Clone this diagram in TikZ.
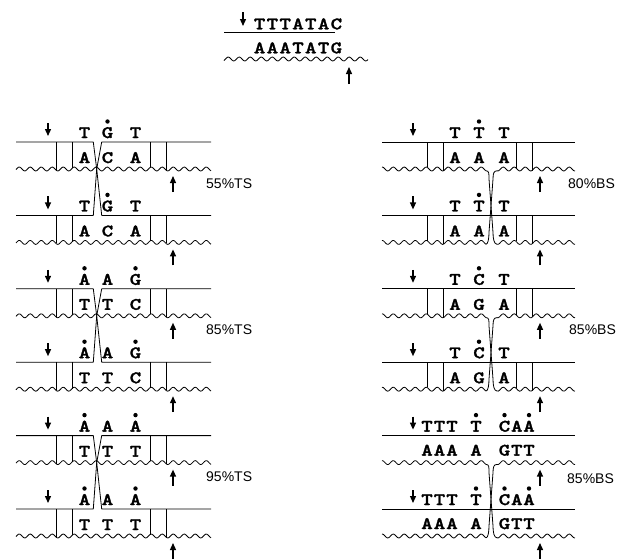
\documentclass[tikz,border=0pt]{standalone}
\usepackage{fontspec}
\newfontfamily\labelfont{Liberation Sans}
\newfontfamily\nucfont{lmmonolt10-bold}[Extension=.otf, FakeStretch=1.25, FakeBold=1.6]
\usetikzlibrary{arrows.meta}

\begin{document}
\begin{tikzpicture}[
    x=1pt, y=-1pt,
    declare function={wv(\x)=2*sin(32.727*mod(\x,11));},
    strand/.style={line width=0.8pt, line join=round},
    bar/.style={line width=0.7pt},
    nuc/.style={font=\nucfont\fontsize{17.5}{17.5}\selectfont, inner sep=0pt, anchor=base},
    pct/.style={font=\labelfont\fontsize{14}{14}\selectfont, inner sep=0pt, anchor=west},
    cut/.style={line width=1.3pt, -{Triangle[length=7pt, width=6pt]}},
    lesion/.style={radius=2.2pt}
  ]
  \useasboundingbox (0,0) rectangle (629,558);

  % substrate duplex
  \foreach \ch [count=\i] in {T,T,T,A,T,A,C}
    \node[nuc] (top\i) at ({246.8+12.8*\i},29.3) {\ch};
  \foreach \ch [count=\i] in {A,A,A,T,A,T,G}
    \node[nuc] (bot\i) at ({246.8+12.8*\i},53.3) {\ch};
  \draw[strand] (224,32) -- (335,32);
  \draw[strand] plot[smooth, domain=224:368, samples=110] (\x,{59+wv(\x)});
  \draw[cut] (243,12) -- (243,26);
  \draw[cut] (349,84) -- (349,67);

  % left column: top strands exchanged
  \foreach \row in {142,215.4,288.8,362.2,435.6,509} {
    \draw[strand] plot[smooth, domain=16:211, samples=150] (\x,{\row+27+wv(\x)});
    \foreach \bx in {56,72,150,166}
      \draw[bar] (\bx,\row) -- (\bx,{\row+27+wv(\bx)});
    \draw[cut] (48,{\row-19}) -- (48,{\row-6});
    \draw[cut] (173,{\row+50}) -- (173,{\row+34});
  }
  \foreach \row in {142,288.8,435.6} {
    \draw[strand] (16,\row) -- (93.3,\row) -- (96.7,{\row+27}) -- (101.7,{\row+73.4}) -- (211,{\row+73.4});
    \draw[strand] (211,\row) -- (101.7,\row) -- (96.7,{\row+27}) -- (93.3,{\row+73.4}) -- (16,{\row+73.4});
  }
  \foreach \row/\na/\nb/\nc/\ma/\mb/\mc [count=\i] in {142/T/G/T/A/C/A, 215.4/T/G/T/A/C/A,
      288.8/A/A/G/T/T/C, 362.2/A/A/G/T/T/C, 435.6/A/A/A/T/T/T, 509/A/A/A/T/T/T} {
    \node[nuc] (ts\i-1) at (84.5,{\row-4}) {\na};
    \node[nuc] (ts\i-2) at (107.5,{\row-4}) {\nb};
    \node[nuc] (ts\i-3) at (135.5,{\row-4}) {\nc};
    \node[nuc] (ts\i-4) at (84.5,{\row+21}) {\ma};
    \node[nuc] (ts\i-5) at (107.5,{\row+21}) {\mb};
    \node[nuc] (ts\i-6) at (135.5,{\row+21}) {\mc};
  }

  % right column: bottom strands exchanged
  \foreach \row in {142,215.4,288.8,362.2,435.6,509} {
    \draw[strand] (382,\row) -- (575,\row);
    \draw[cut] (413,{\row-19}) -- (413,{\row-6});
    \draw[cut] (540,{\row+50}) -- (540,{\row+34});
  }
  \foreach \row in {142,215.4,288.8,362.2}
    \foreach \bx in {427,443,516,532}
      \draw[bar] (\bx,\row) -- (\bx,{\row+27+wv(\bx)});
  \foreach \row [evaluate=\row as \up using \row+27, evaluate=\row as \lo using \row+100.4] in {142,288.8,435.6} {
    \draw[strand] plot[smooth, domain=382:486, samples=80] (\x,{\up+wv(\x)});
    \draw[strand] plot[smooth, domain=497:575, samples=60] (\x,{\up+wv(\x)});
    \draw[strand] plot[smooth, domain=382:486, samples=80] (\x,{\lo+wv(\x)});
    \draw[strand] plot[smooth, domain=497:575, samples=60] (\x,{\lo+wv(\x)});
    \draw[strand] (486,{\up+wv(486)}) .. controls (489,{\up+wv(486)}) and (489,{\up+4}) .. (489,{\up+10})
      -- (493,{\lo-10}) .. controls (493,{\lo-4}) and (494,{\lo+wv(497)}) .. (497,{\lo+wv(497)});
    \draw[strand] (497,{\up+wv(497)}) .. controls (494,{\up+wv(497)}) and (493,{\up+4}) .. (493,{\up+10})
      -- (489,{\lo-10}) .. controls (489,{\lo-4}) and (488,{\lo+wv(486)}) .. (486,{\lo+wv(486)});
  }
  \foreach \row/\na/\nb/\nc/\ma/\mb/\mc [count=\i] in {142/T/T/T/A/A/A, 215.4/T/T/T/A/A/A,
      288.8/T/C/T/A/G/A, 362.2/T/C/T/A/G/A} {
    \node[nuc] (bs\i-1) at (455,{\row-4}) {\na};
    \node[nuc] (bs\i-2) at (479,{\row-4}) {\nb};
    \node[nuc] (bs\i-3) at (504,{\row-4}) {\nc};
    \node[nuc] (bs\i-4) at (455,{\row+21}) {\ma};
    \node[nuc] (bs\i-5) at (479,{\row+21}) {\mb};
    \node[nuc] (bs\i-6) at (504,{\row+21}) {\mc};
  }
  \foreach \row [count=\i] in {435.6,509} {
    \foreach \ch/\px [count=\j] in {T/427,T/439.5,T/452,T/476,C/504.5,A/516.8,A/529}
      \node[nuc] (up\i-\j) at (\px,{\row-4}) {\ch};
    \foreach \ch/\px [count=\j] in {A/427,A/439.5,A/452,A/476,G/504.5,T/516.8,T/529}
      \node[nuc] (lo\i-\j) at (\px,{\row+20}) {\ch};
  }

  % damaged bases
  \foreach \px/\row in {107.5/142, 107.5/215.4, 84.5/288.8, 135.5/288.8, 84.5/362.2, 135.5/362.2,
      84.5/435.6, 135.5/435.6, 84.5/509, 135.5/509, 479/142, 479/215.4, 479/288.8, 479/362.2,
      476/435.6, 504.5/435.6, 529/435.6, 476/509, 504.5/509, 529/509}
    \fill (\px,{\row-20.5}) circle[lesion];

  % yields
  \node[pct] (ts55) at (206,184) {55\%TS};
  \node[pct] (ts85) at (206,330) {85\%TS};
  \node[pct] (ts95) at (206,477) {95\%TS};
  \node[pct] (bs80) at (568,184) {80\%BS};
  \node[pct] (bs85a) at (569,330) {85\%BS};
  \node[pct] (bs85b) at (567,479) {85\%BS};
\end{tikzpicture}
\end{document}
